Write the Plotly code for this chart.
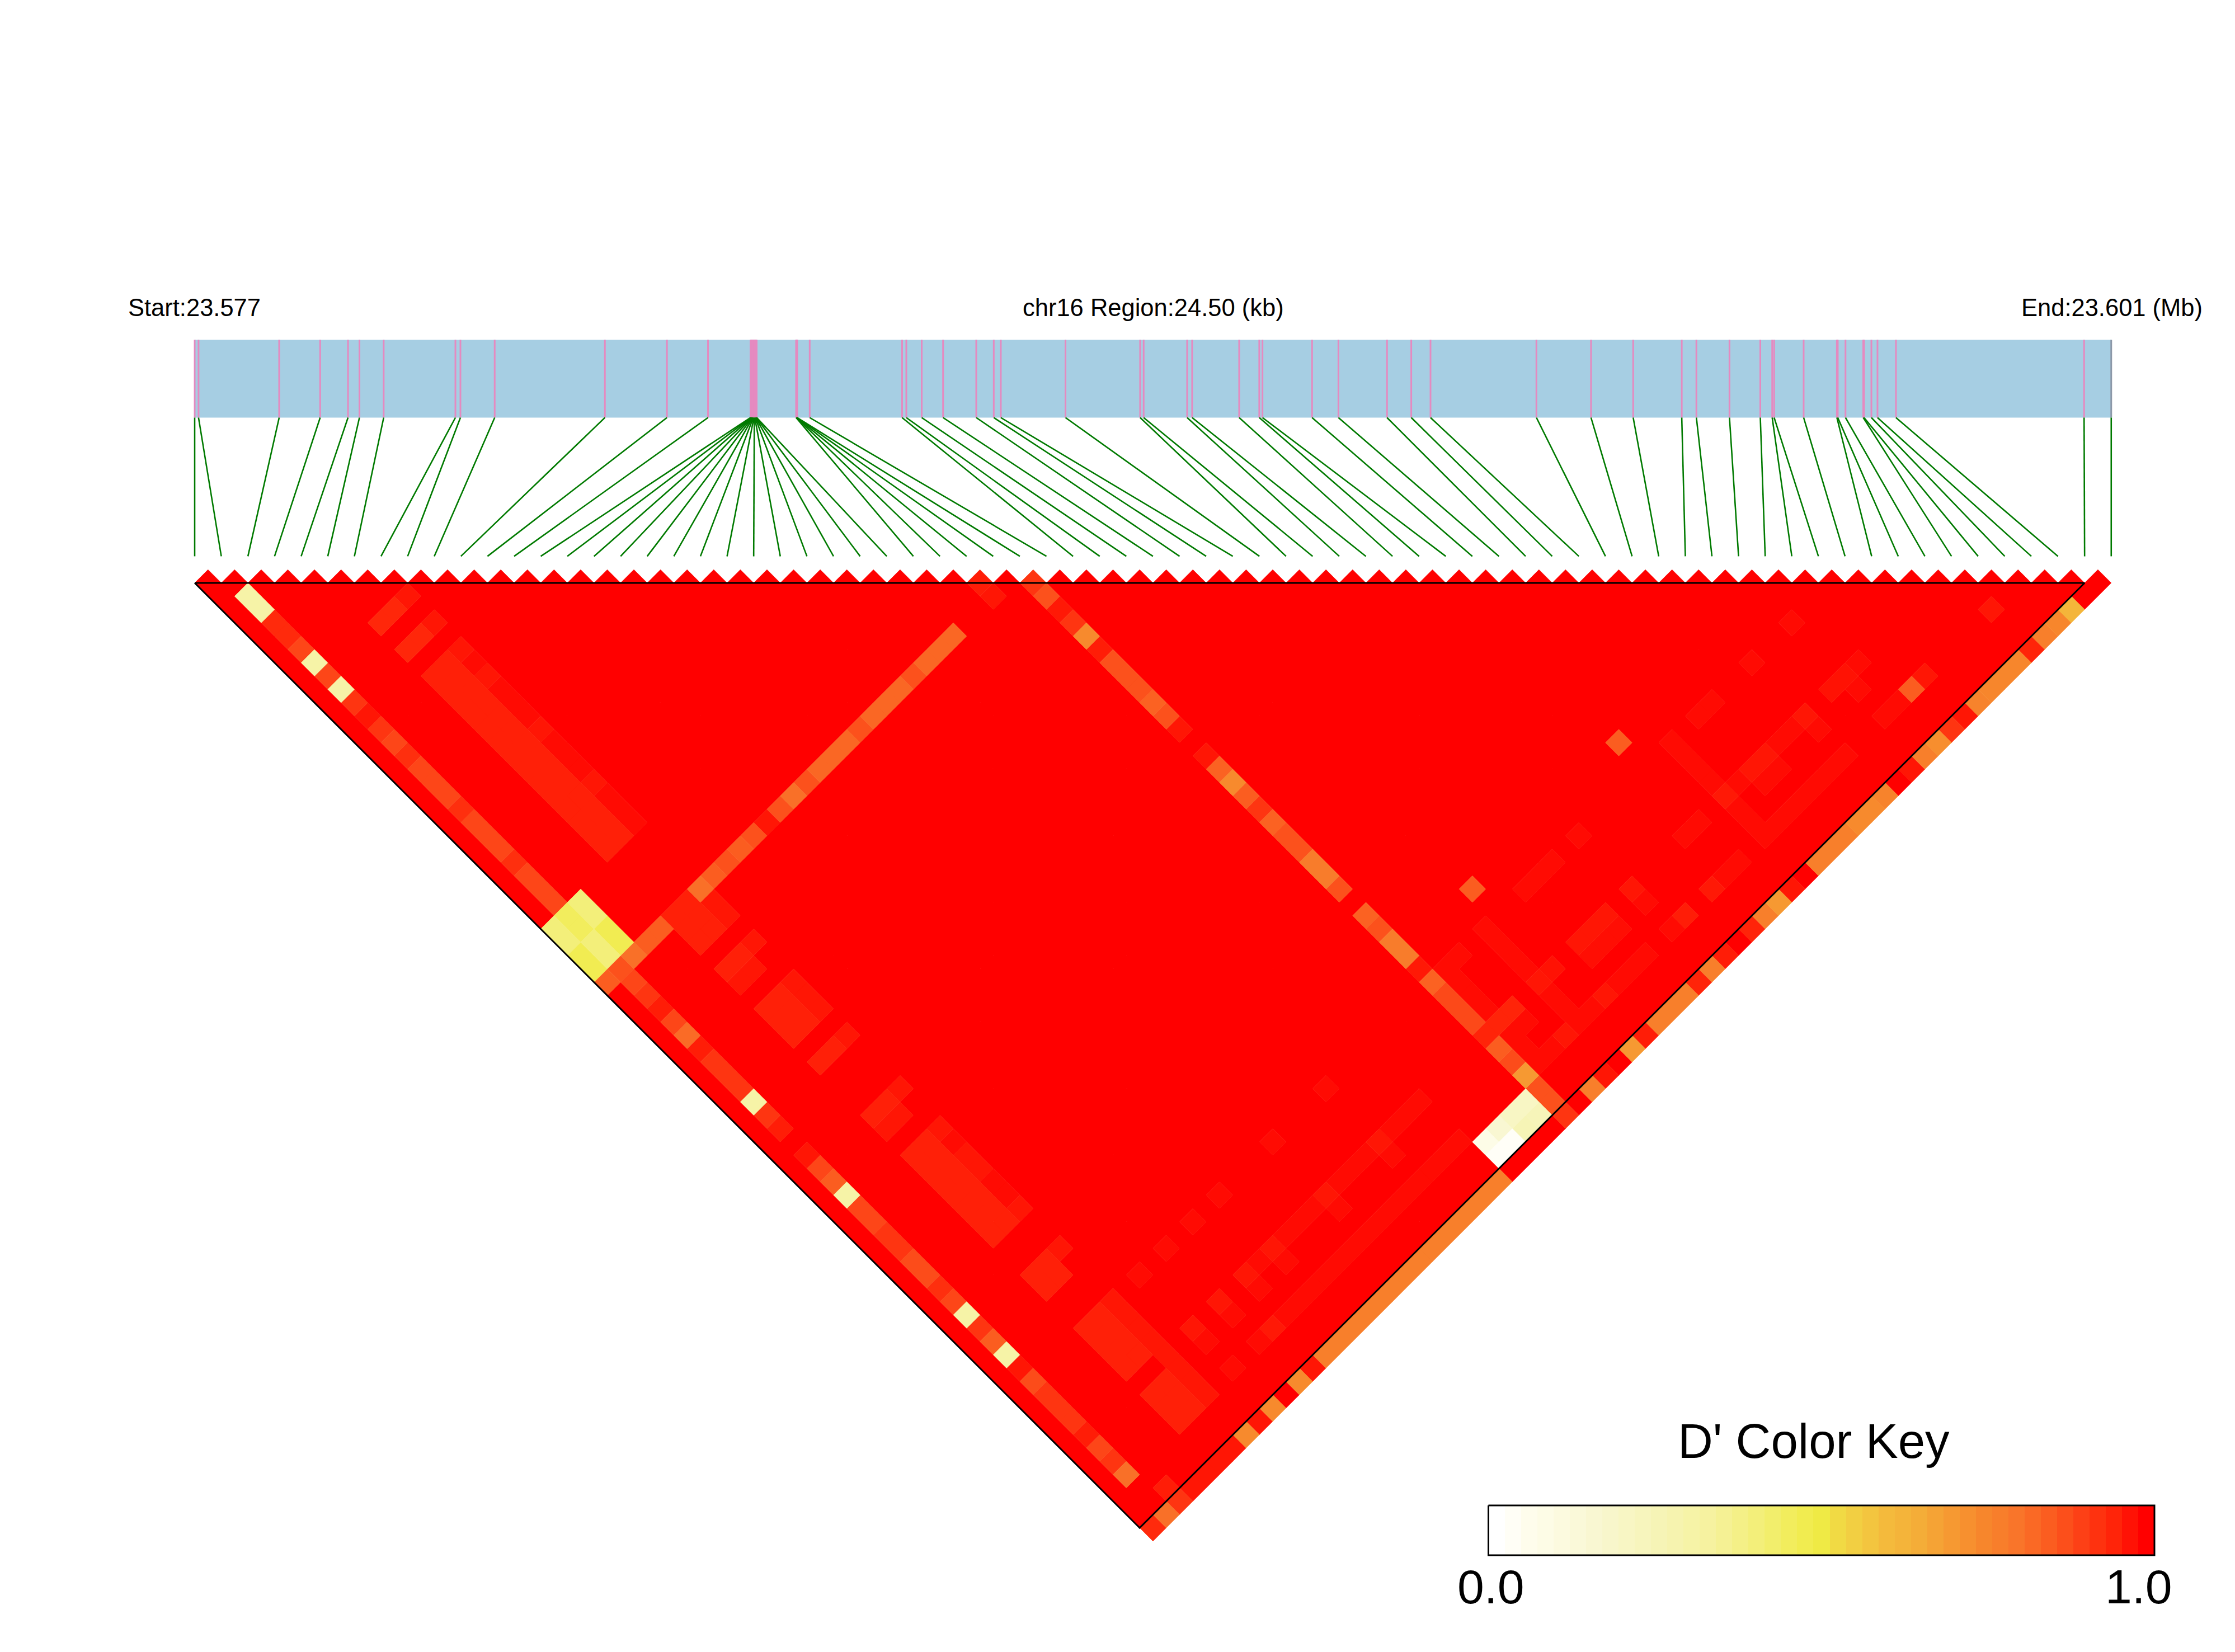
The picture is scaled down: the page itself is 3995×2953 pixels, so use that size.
import numpy as np
import plotly.graph_objects as go

# ---------- data ----------
start_mb = "Start:23.577"
region_label = "chr16 Region:24.50 (kb)"
end_mb = "End:23.601 (Mb)"
key_title = "D' Color Key"
key_tick_labels = ["0.0", "1.0"]
region_kb = 24.5

# SNP positions, kb from region start
snp_kb = [0, .049, 1.080, 1.604, 1.960, 2.106, 2.416, 3.333, 3.397, 3.835, 5.244, 6.037, 6.562,
          7.105, 7.111, 7.117, 7.123, 7.129, 7.135, 7.141, 7.148, 7.154, 7.160, 7.166, 7.172, 7.178, 7.184,
          7.688, 7.692, 7.695, 7.699, 7.702, 7.862, 9.043, 9.097, 9.294, 9.567, 9.991, 10.215, 10.305,
          11.132, 12.086, 12.131, 12.687, 12.751, 13.352, 13.609, 13.650, 14.284, 14.621, 15.242, 15.552,
          15.798, 17.152, 17.850, 18.389, 19.010, 19.197, 19.620, 20.014, 20.166, 20.191, 20.568, 20.993,
          21.004, 21.103, 21.330, 21.340, 21.434, 21.512, 21.748, 24.153, 24.5]
n_snp = len(snp_kb)

# D'; any pair not listed has D' = 1.0
# (first SNP from, first SNP to, second SNP from, second SNP to, D')
runs = [
 (0,0,27,28,.40),(0,0,29,30,.47),(0,0,31,31,.85),(0,0,72,72,.94),
 (1,1,3,4,.30),(1,1,5,6,.94),(1,1,7,7,.89),(1,1,8,8,.30),(1,1,9,9,.89),(1,1,10,10,.30),(1,1,11,11,.92),
 (1,1,12,12,.97),(1,1,13,13,.92),(1,1,14,14,.89),(1,1,15,15,.93),(1,1,16,18,.89),(1,1,19,19,.93),
 (1,1,20,22,.89),(1,1,23,23,.93),(1,1,24,26,.89),(1,1,27,28,.45),(1,1,29,30,.40),(1,1,31,31,.87),
 (1,1,32,32,.89),(1,1,33,33,.92),(1,1,34,34,.96),(1,1,35,35,.89),(1,1,36,36,.82),(1,1,37,37,.96),
 (1,1,38,40,.92),(1,1,41,41,.30),(1,1,42,42,.92),(1,1,43,43,.96),(1,1,45,45,.97),(1,1,46,46,.89),
 (1,1,47,47,.85),(1,1,48,48,.30),(1,1,49,50,.89),(1,1,51,52,.92),(1,1,53,54,.88),(1,1,55,55,.93),
 (1,1,56,56,.89),(1,1,57,57,.30),(1,1,58,58,.92),(1,1,59,59,.85),(1,1,60,60,.30),(1,1,61,61,.97),
 (1,1,62,62,.88),(1,1,63,65,.92),(1,1,66,66,.96),(1,1,67,67,.89),(1,1,68,68,.92),(1,1,69,69,.81),(1,1,72,72,.81),
 (2,2,27,28,.40),(2,2,29,30,.47),(2,2,31,31,.81),(2,2,71,71,.96),(2,2,72,72,.92),
 (3,4,31,31,.85),(3,6,72,72,.97),
 (5,6,9,9,.945),(5,6,11,11,.945),(5,6,13,26,.955),(5,6,31,33,.955),(5,6,35,35,.955),(5,6,36,36,.97),
 (5,6,38,40,.955),(5,6,42,42,.955),(5,6,46,46,.955),(5,6,47,47,.97),(5,6,49,55,.955),(5,6,58,59,.955),
 (5,6,62,65,.955),(5,6,67,69,.955),
 (7,7,9,9,.97),(7,7,11,11,.97),(7,7,13,13,.97),(7,7,14,14,.985),(7,7,15,15,.97),(7,7,16,18,.985),
 (7,7,19,19,.97),(7,7,20,22,.985),(7,7,23,23,.97),(7,7,24,26,.985),(7,7,31,31,.81),(7,7,32,33,.97),
 (7,7,35,35,.97),(7,7,38,40,.97),(7,7,42,42,.97),(7,7,46,46,.97),(7,7,49,49,.97),(7,7,50,50,.985),
 (7,7,51,52,.97),(7,7,53,54,.985),(7,7,55,55,.97),(7,7,58,58,.97),(7,7,62,69,.97),(7,7,72,72,.74),
 (8,8,31,31,.85),(8,8,72,72,.97),
 (9,9,31,31,.87),(10,10,31,31,.85),(11,11,31,31,.87),(12,12,31,31,.97),(13,13,31,31,.87),(14,14,31,31,.81),
 (15,15,31,31,.87),(16,18,31,31,.83),(19,19,31,31,.87),(20,22,31,31,.83),(23,23,31,31,.87),(24,26,31,31,.83),
 (9,9,72,72,.74),(11,11,72,72,.74),(12,12,72,72,.97),(13,26,72,72,.77),
 (9,9,62,62,.985),(11,11,62,62,.985),(13,13,62,62,.985),(15,15,62,62,.985),(19,19,62,62,.985),(23,23,62,62,.985),
 (9,9,66,66,.97),(11,11,66,66,.97),(13,13,66,66,.97),(15,15,66,66,.97),(19,19,66,66,.97),(23,23,66,66,.97),
 (14,14,66,66,.985),(16,18,66,66,.985),(20,22,66,66,.985),(24,26,66,66,.985),
 (9,9,67,67,.985),(11,11,67,67,.985),(13,13,67,67,.985),(15,15,67,67,.985),(19,19,67,67,.985),(23,23,67,67,.985),
 (9,9,69,69,.985),(11,11,69,69,.985),(12,12,69,69,.965),(13,26,69,69,.985),
 (27,27,70,70,.07),(28,28,70,70,.15),(29,30,70,70,.20),(27,28,71,71,.02),(29,29,71,71,.25),(30,30,71,71,.24),
 (29,29,30,30,.96),(29,29,31,31,.97),
 (31,31,32,32,.92),(31,31,33,33,.87),(31,31,34,34,.965),(31,31,35,35,.92),(31,31,36,36,.74),(31,31,37,37,.96),
 (31,31,38,40,.87),(31,31,41,41,.84),(31,31,42,42,.87),(31,31,43,43,.97),(31,31,45,45,.97),(31,31,46,46,.84),
 (31,31,47,47,.74),(31,31,48,48,.85),(31,31,49,49,.92),(31,31,50,50,.84),(31,31,51,52,.87),(31,31,53,54,.78),
 (31,31,55,55,.87),(31,31,57,57,.84),(31,31,58,58,.87),(31,31,59,60,.78),(31,31,61,61,.965),(31,31,62,62,.84),
 (31,31,63,65,.885),(31,33,66,66,.95),(31,31,67,67,.85),(31,31,68,68,.88),(31,31,69,69,.70),(31,31,70,71,.87),
 (31,31,72,72,.92),
 (33,33,72,72,.77),(34,34,72,72,.97),(36,36,72,72,.70),(37,37,72,72,.96),(38,40,72,72,.77),(41,41,72,72,.95),
 (42,42,72,72,.77),(43,43,72,72,.96),(45,45,72,72,.95),(46,46,72,72,.77),(47,47,72,72,.70),(48,48,72,72,.97),
 (50,52,72,72,.77),(53,54,72,72,.74),(55,55,72,72,.76),(57,57,72,72,.97),(58,58,72,72,.77),(59,59,72,72,.73),
 (60,60,72,72,.92),(61,61,72,72,.97),(62,62,72,72,.76),(63,65,72,72,.75),(66,66,72,72,.95),(67,67,72,72,.77),
 (68,68,72,72,.75),(69,69,72,72,.62),
 (36,36,60,60,.85),(47,47,60,60,.85),
 (32,33,62,62,.985),(35,35,62,65,.985),(35,35,66,66,.97),(35,35,67,69,.985),(36,36,66,66,.975),(36,36,69,69,.985),
 (37,37,69,69,.97),(38,40,69,69,.985),(38,40,62,62,.985),(42,42,62,62,.985),(51,52,62,62,.985),(55,55,62,62,.985),
 (58,58,62,62,.985),(32,32,63,65,.985),(32,32,67,69,.985),(33,33,67,67,.985),(33,33,69,69,.985),(34,34,69,69,.97),
 (38,40,66,66,.97),(38,40,67,67,.98),(42,42,66,66,.97),(42,42,67,67,.985),(42,42,69,69,.985),(43,43,69,69,.96),
 (45,45,69,69,.965),(46,47,69,69,.985),(46,47,66,66,.985),(49,49,62,65,.985),(49,49,66,66,.965),(49,49,67,69,.985),
 (50,50,66,66,.985),(50,55,69,69,.985),(51,52,66,66,.97),(51,52,67,67,.985),(53,54,66,66,.985),(55,55,66,66,.97),
 (55,55,67,67,.985),(57,58,66,66,.975),(59,59,66,66,.985),(58,58,67,67,.985),(58,59,69,69,.985),(60,60,69,69,.85),
 (61,61,69,69,.97),(66,66,69,69,.97),
]

# colour key: D' stops and their colours
key_stops = [0, .05, .15, .25, .33, .40, .47, .50, .52, .60, .65, .70, .75, .80, .85, .90, .95, 1]
key_colors = ["#FFFFFF", "#FEFDEC", "#F9F7D2", "#F6F4B6", "#F6F29E", "#F3EF7A", "#F1EC52", "#EFEA45", "#F1DC45",
              "#F4BA3C", "#F4AD38", "#F69932", "#F7862C", "#F9752A", "#FB5D20", "#FD4016", "#FF2409", "#FF0000"]
key_bins = 41

# ---------- layout constants (pixels of the page) ----------
W, H = 3995, 2953
PX0, PY0, UNIT = 348.0, 1042.0, 47.58
def ux(px): return (px - PX0) / UNIT
def uy(py): return (py - PY0) / UNIT

rgb = np.array([[int(c[k:k + 2], 16) for k in (1, 3, 5)] for c in key_colors], float)
def colour(d):
    return "rgb(%d,%d,%d)" % tuple(int(round(np.interp(d, key_stops, rgb[:, k]))) for k in range(3))

# ---------- build D' values ----------
dprime = {}
for i in range(n_snp):
    for j in range(i + 1, n_snp):
        dprime[(i, j)] = 1.0
for a0, a1, b0, b1, d in runs:
    for i in range(a0, a1 + 1):
        for j in range(b0, b1 + 1):
            dprime[(i, j)] = d

fig = go.Figure()

groups = {}
for (i, j), d in dprime.items():
    groups.setdefault(d, []).append((i, j))
for d in sorted(groups, reverse=True):
    xs, ys = [], []
    for i, j in groups[d]:
        cx, cy = (i + j) / 2, (j - i - 1) / 2
        xs += [cx - .5, cx, cx + .5, cx, cx - .5, None]
        ys += [cy, cy - .5, cy, cy + .5, cy, None]
    c = colour(d)
    fig.add_trace(go.Scatter(x=xs, y=ys, mode="lines", fill="toself", fillcolor=c,
                             line=dict(color=c, width=0.6), hoverinfo="skip", showlegend=False))

# triangle outline
fig.add_trace(go.Scatter(x=[0, n_snp - 2, (n_snp - 2) / 2, 0], y=[0, 0, (n_snp - 2) / 2, 0], mode="lines",
                         line=dict(color="black", width=3), hoverinfo="skip", showlegend=False))

# gene track
T0, T1, L1 = uy(607.5), uy(746.5), uy(994.4)
snp_x = [k / region_kb * (n_snp - 1) for k in snp_kb]
fig.add_shape(type="rect", x0=0, x1=n_snp - 1, y0=T0, y1=T1, fillcolor="#A6CEE3", line_width=0, layer="below")
xs, ys = [], []
for k, sx in enumerate(snp_x[:-1]):
    xs += [sx, sx, None]; ys += [T0, T1, None]
fig.add_trace(go.Scatter(x=xs, y=ys, mode="lines", line=dict(color="#E58AC0", width=3),
                         hoverinfo="skip", showlegend=False))
fig.add_trace(go.Scatter(x=[snp_x[-1]] * 2, y=[T0, T1], mode="lines", line=dict(color="#8C98A8", width=3),
                         hoverinfo="skip", showlegend=False))
xs, ys = [], []
for k, sx in enumerate(snp_x):
    xs += [sx, k, None]; ys += [T1, L1, None]
fig.add_trace(go.Scatter(x=xs, y=ys, mode="lines", line=dict(color="#007A00", width=2.6),
                         hoverinfo="skip", showlegend=False))

# colour key
kx0, kx1, ky0, ky1 = ux(2660.5), ux(3851), uy(2691), uy(2780)
edges = np.linspace(kx0, kx1, key_bins + 1)
vals = [k / (key_bins - 1) for k in range(key_bins)]
scale = [[s, c] for s, c in zip(key_stops, key_colors)]
fig.add_trace(go.Heatmap(x=edges, y=[ky0, ky1], z=[vals], colorscale=scale, zmin=0, zmax=1, showscale=False,
                         hoverinfo="skip"))
fig.add_trace(go.Scatter(x=[kx0, kx1, kx1, kx0, kx0], y=[ky0, ky0, ky1, ky1, ky0], mode="lines",
                         line=dict(color="black", width=3), hoverinfo="skip", showlegend=False))

# text
FONT = "Liberation Sans"
def label(text, px, py, size):
    fig.add_annotation(x=ux(px), y=uy(py), xref="x", yref="y", text=text, showarrow=False,
                       xanchor="center", yanchor="middle", font=dict(family=FONT, size=size, color="black"))
label(start_mb, 347.4, 550, 43.5)
label(region_label, 2061.5, 550, 43.5)
label(end_mb, 3775, 550, 43.5)
label(key_title, 3241.5, 2575, 87)
label(key_tick_labels[0], 2664.5, 2836, 86)
label(key_tick_labels[1], 3823, 2836, 86)

fig.update_layout(width=W, height=H, margin=dict(l=0, r=0, t=0, b=0), paper_bgcolor="white", plot_bgcolor="white",
                  showlegend=False,
                  xaxis=dict(range=[ux(0), ux(W)], visible=False, fixedrange=True),
                  yaxis=dict(range=[uy(H), uy(0)], visible=False, fixedrange=True))

fig.write_html("out.html", config=dict(displayModeBar=False),
               post_script="document.body.style.margin='0';document.documentElement.style.overflow='hidden';")
